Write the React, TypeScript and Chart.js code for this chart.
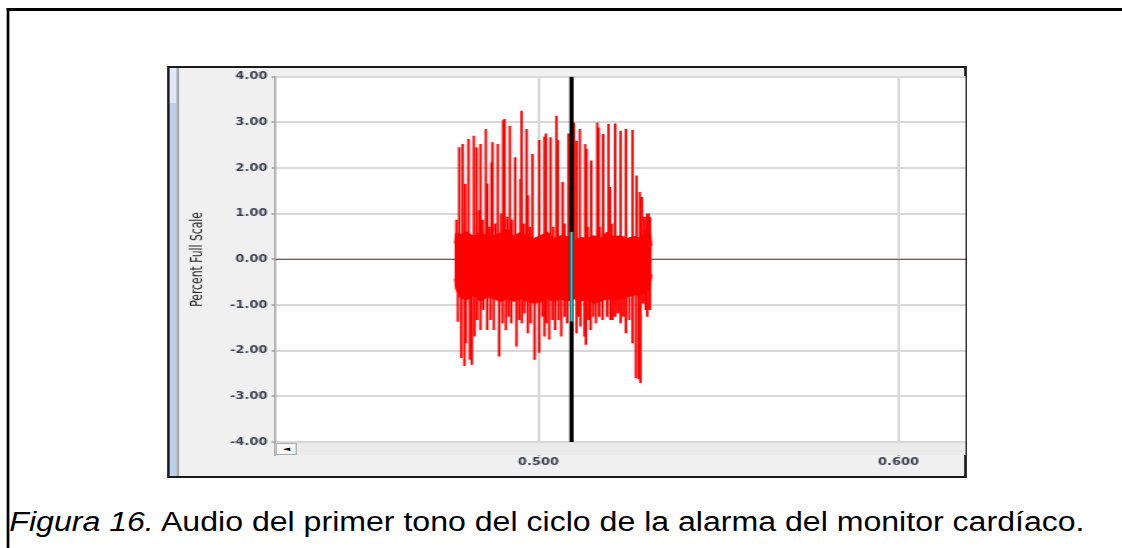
import React, { useEffect, useRef } from 'react';
import { Chart, registerables } from 'chart.js';

Chart.register(...registerables);

// The reference screenshot is horizontally stretched; layout is done at design width and scaled.
const S = 1122 / 839;

// ---- data ----
const xTickValues = [0.5, 0.6];
const yTickValues = [-4, -3, -2, -1, 0, 1, 2, 3, 4];
const xMin = 0.42694;
const xMax = 0.61861;

// dense body of the tone (upper / lower envelope)
const bandX = [0.47667, 0.47704, 0.47833, 0.48019, 0.48204, 0.48389, 0.48574, 0.48759, 0.48944, 0.4913, 0.49315, 0.495, 0.49685, 0.4987, 0.50056, 0.50241, 0.50426, 0.50611, 0.50796, 0.50981, 0.51167, 0.51352, 0.51537, 0.51722, 0.51907, 0.52093, 0.52278, 0.52463, 0.52648, 0.52833, 0.53019, 0.53111, 0.53148];
const bandHi = [0.35, 0.58, 0.55, 0.6, 0.5, 0.6, 0.5, 0.52, 0.58, 0.66, 0.5, 0.6, 0.5, 0.46, 0.52, 0.6, 0.46, 0.52, 0.5, 0.4, 0.48, 0.46, 0.52, 0.46, 0.6, 0.5, 0.52, 0.46, 0.5, 0.46, 0.7, 0.55, 0.3];
const bandLo = [-0.42, -0.65, -0.85, -0.88, -0.78, -0.92, -0.82, -0.86, -0.92, -0.86, -0.92, -0.86, -0.92, -0.96, -0.92, -0.86, -0.92, -0.86, -0.92, -0.86, -0.92, -0.86, -0.96, -0.92, -0.86, -0.9, -0.86, -0.82, -0.78, -0.78, -0.7, -0.52, -0.33];

// positive peaks
const upX = [0.47722, 0.47796, 0.47889, 0.47963, 0.48056, 0.48204, 0.48278, 0.48389, 0.48537, 0.48574, 0.48694, 0.48722, 0.4887, 0.49019, 0.49056, 0.49204, 0.49352, 0.495, 0.49528, 0.49667, 0.49704, 0.49833, 0.50019, 0.50167, 0.50204, 0.50333, 0.505, 0.50537, 0.50667, 0.50833, 0.50981, 0.51056, 0.51148, 0.51296, 0.51333, 0.51463, 0.5163, 0.51667, 0.51796, 0.51944, 0.51981, 0.5213, 0.52278, 0.52426, 0.52611, 0.52722, 0.52815, 0.5287, 0.53019, 0.53093];
const upY = [0.86, 2.45, 2.52, 1.65, 2.63, 2.7, 2.45, 2.52, 2.85, 1.65, 2.12, 2.56, 2.52, 3.04, 3.07, 2.92, 2.23, 1.76, 3.25, 2.85, 1.4, 2.3, 2.61, 2.68, 2.75, 2.67, 3.14, 2.61, 1.69, 2.75, 2.99, 2.59, 2.85, 2.52, 2.41, 2.16, 2.99, 2.88, 2.74, 2.96, 1.58, 2.97, 2.81, 2.85, 2.83, 1.83, 1.47, 1.36, 1.0, 0.93];
const midUpX = [0.48352, 0.48444, 0.4863, 0.48796, 0.48963, 0.4913, 0.49259, 0.49593, 0.49759, 0.50407, 0.50722, 0.5087, 0.5137, 0.51704, 0.52037, 0.52944, 0.53056];
const midUpY = [1.07, 0.86, 0.71, 0.78, 1.0, 0.93, 0.86, 0.78, 0.71, 0.71, 0.78, 1.14, 0.71, 0.71, 0.78, 0.93, 1.0];

// negative peaks
const downX = [0.47759, 0.47852, 0.47944, 0.47981, 0.48093, 0.48148, 0.48222, 0.48389, 0.48463, 0.48574, 0.48759, 0.48907, 0.49093, 0.49241, 0.49389, 0.49537, 0.49704, 0.49889, 0.50019, 0.50167, 0.50296, 0.50463, 0.5063, 0.50796, 0.50926, 0.51056, 0.51167, 0.51278, 0.51315, 0.51444, 0.51593, 0.51778, 0.51907, 0.52056, 0.5213, 0.52278, 0.52426, 0.52611, 0.52704, 0.52778, 0.52833, 0.52907, 0.53019, 0.53093];
const downY = [-1.36, -2.15, -2.33, -1.83, -2.19, -2.3, -1.68, -1.54, -1.1, -1.54, -1.54, -2.12, -1.54, -1.39, -1.9, -1.39, -1.61, -2.19, -2.04, -1.68, -1.75, -1.54, -1.68, -1.39, -1.79, -1.61, -1.46, -1.68, -1.86, -1.54, -1.39, -1.32, -1.25, -1.32, -1.25, -1.39, -1.61, -1.83, -2.59, -2.62, -2.7, -0.96, -1.25, -1.1];
const midDownX = [0.48296, 0.48667, 0.49, 0.49167, 0.49463, 0.49611, 0.49778, 0.50111, 0.50222, 0.50389, 0.50556, 0.50722, 0.51111, 0.51389, 0.51519, 0.51685, 0.52, 0.52204, 0.52352, 0.52519, 0.52981];
const midDownY = [-1.32, -1.32, -1.39, -1.25, -1.32, -1.17, -1.39, -1.25, -1.39, -1.32, -1.32, -1.25, -1.25, -1.32, -1.25, -1.25, -1.32, -1.17, -1.25, -1.32, -1.1];

// cursor and the highlighted sample range at the cursor
const cursorX = 0.50917;
const cursorRange = [-4, 4];
const cyanRange = [-1.355, 0.6];

const tickFont = { family: "'DejaVu Sans', Verdana, sans-serif", size: 9.7, weight: 'bold' };
const tickColor = '#3a3f4e';

const whiteArea = {
  id: 'whiteArea',
  beforeDraw(chart: any) {
    const { ctx, chartArea: a } = chart;
    ctx.save();
    ctx.fillStyle = '#ffffff';
    ctx.fillRect(a.left, a.top, a.right - a.left, a.bottom - a.top);
    ctx.restore();
  },
};

export default function App() {
  const ref = useRef<HTMLCanvasElement | null>(null);

  useEffect(() => {
    if (!ref.current) return;
    const spikes = [
      ...upX.map((x, i) => ({ x, y: [0, upY[i]] })),
      ...midUpX.map((x, i) => ({ x, y: [0, midUpY[i]] })),
      ...downX.map((x, i) => ({ x, y: [downY[i], 0] })),
      ...midDownX.map((x, i) => ({ x, y: [midDownY[i], 0] })),
    ];
    const chart = new Chart(ref.current, {
      type: 'bar',
      data: {
        datasets: [
          {
            type: 'bar',
            data: [{ x: cursorX, y: cyanRange }],
            backgroundColor: '#1ee0e0',
            barThickness: 1.3,
            grouped: false,
          } as any,
          {
            type: 'bar',
            data: [{ x: cursorX, y: cursorRange }],
            backgroundColor: '#000000',
            barThickness: 2.5,
            grouped: false,
          } as any,
          {
            type: 'bar',
            data: spikes,
            backgroundColor: '#ff0000',
            barThickness: 1.2,
            grouped: false,
          } as any,
          {
            type: 'line',
            data: bandX.map((x, i) => ({ x, y: bandHi[i] })),
            borderColor: '#ff0000',
            backgroundColor: '#ff0000',
            borderWidth: 1,
            pointRadius: 0,
            tension: 0,
            fill: '+1',
          } as any,
          {
            type: 'line',
            data: bandX.map((x, i) => ({ x, y: bandLo[i] })),
            borderColor: '#ff0000',
            borderWidth: 1,
            pointRadius: 0,
            tension: 0,
            fill: false,
          } as any,
          {
            type: 'line',
            data: [{ x: xMin, y: 0 }, { x: xMax, y: 0 }],
            borderColor: 'rgb(200,35,35)',
            borderWidth: 1,
            pointRadius: 0,
            fill: false,
          } as any,
        ],
      },
      options: {
        responsive: false,
        animation: false,
        devicePixelRatio: 1,
        events: [],
        layout: { padding: { top: 7, left: 0, right: 0, bottom: 0 } },
        plugins: { legend: { display: false }, tooltip: { enabled: false } },
        scales: {
          x: {
            type: 'linear',
            min: xMin,
            max: xMax,
            offset: false,
            afterBuildTicks: (s: any) => {
              s.ticks = xTickValues.map((v) => ({ value: v }));
            },
            afterFit: (s: any) => {
              s.height = 34;
            },
            grid: { offset: false, color: '#d9d9d9', lineWidth: 2, drawTicks: true, tickLength: 14, tickColor: '#666666', tickWidth: 1 },
            border: { display: false },
            ticks: {
              padding: 1,
              maxRotation: 0,
              autoSkip: false,
              color: tickColor,
              font: tickFont,
              callback: (v: any) => Number(v).toFixed(3),
            },
          },
          y: {
            type: 'linear',
            min: -4,
            max: 4,
            afterBuildTicks: (s: any) => {
              s.ticks = yTickValues.map((v) => ({ value: v }));
            },
            afterFit: (s: any) => {
              s.width = 72;
            },
            grid: { color: '#d9d9d9', lineWidth: 2, drawTicks: true, tickLength: 3, tickColor: '#777777', tickWidth: 1 },
            border: { display: true, color: '#a3a3a3', width: 1.5 },
            ticks: {
              padding: 3,
              color: tickColor,
              font: tickFont,
              callback: (v: any) => Number(v).toFixed(2),
            },
            title: {
              display: true,
              text: 'Percent Full Scale',
              color: '#222222',
              font: { family: "'Liberation Sans Narrow', 'DejaVu Sans Condensed', sans-serif", size: 12 },
              padding: { top: 6.5, bottom: 0 },
            },
          },
        },
      } as any,
      plugins: [whiteArea],
    });
    return () => chart.destroy();
  }, []);

  const abs = (l: number, t: number, w: number, h: number, extra: React.CSSProperties = {}): React.CSSProperties => ({
    position: 'absolute',
    left: l / S,
    top: t,
    width: w / S,
    height: h,
    boxSizing: 'border-box',
    ...extra,
  });

  // caption: 27px text fitted to the reference width (page x 10 → 1085)
  const capScale = 1075 / (33.513 * 27 * S);

  return (
    <div
      style={{
        position: 'absolute',
        left: 0,
        top: 0,
        width: 839,
        height: 548,
        overflow: 'hidden',
        background: '#ffffff',
        transform: `scaleX(${S})`,
        transformOrigin: '0 0',
      }}
    >
      {/* outer figure frame */}
      <div style={abs(7, 8, 1200, 600, { borderLeft: '2px solid #000', borderTop: '3px solid #000' })} />
      {/* instrument panel */}
      <div style={abs(167, 66, 800, 412, { border: '2px solid #1a1a1a', background: '#f0f0f0' })} />
      <div style={abs(170, 68, 7, 408, { background: '#bad1ec' })} />
      <div style={abs(170, 68, 7, 35, { background: '#dfe8f4' })} />
      <div style={abs(177, 68, 2.3, 408, { background: '#a8a8a8' })} />
      <canvas
        ref={ref}
        width={588}
        height={408}
        style={{ position: 'absolute', left: 179 / S - 0.25, top: 68, width: 588, height: 408 }}
      />
      {/* horizontal scroll bar under the plot */}
      <div style={abs(276, 443, 689, 12, { background: '#ebebeb' })} />
      <div style={abs(273.5, 441, 2, 15, { background: '#a3a3a3' })} />
      <div
        style={abs(276, 443, 21, 12, {
          background: '#f7f7f7',
          border: '1px solid #a9a9a9',
          fontSize: 7,
          lineHeight: '10px',
          textAlign: 'center',
          color: '#000',
          fontFamily: "'DejaVu Sans', sans-serif",
        })}
      >
        ◄
      </div>
      {/* caption */}
      <div
        style={{
          position: 'absolute',
          left: 10 / S,
          top: 509,
          fontFamily: "'Liberation Sans', Arial, sans-serif",
          fontSize: 27,
          lineHeight: '27px',
          whiteSpace: 'nowrap',
          color: '#000',
          transform: `scaleX(${capScale})`,
          transformOrigin: '0 0',
        }}
      >
        <i>Figura 16.</i> Audio del primer tono del ciclo de la alarma del monitor cardíaco.
      </div>
    </div>
  );
}
